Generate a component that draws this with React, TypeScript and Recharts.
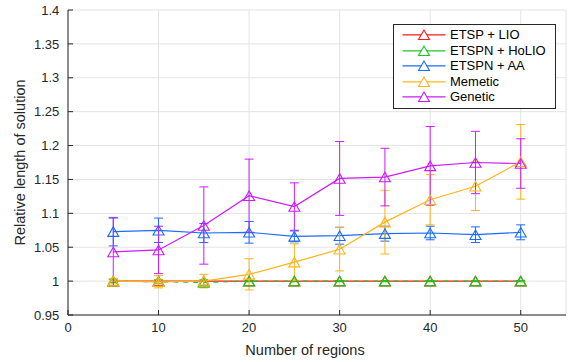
import React from 'react';
import { LineChart, Line, XAxis, YAxis, CartesianGrid, ErrorBar } from 'recharts';

const regions = [5, 10, 15, 20, 25, 30, 35, 40, 45, 50];
const etspLio = [1, 1, 1, 1, 1, 1, 1, 1, 1, 1];
const etspLioErr = [0, 0, 0, 0, 0, 0, 0, 0, 0, 0];
const etspnHolio = [1.0, 0.999, 0.998, 1.0, 1.0, 1.0, 1.0, 1.0, 1.0, 1.0];
const etspnHolioErr = [0.002, 0.003, 0.004, 0.001, 0.001, 0.001, 0.001, 0.001, 0.001, 0.001];
const etspnAa = [1.073, 1.075, 1.071, 1.072, 1.066, 1.067, 1.07, 1.071, 1.0685, 1.072];
const etspnAaErr = [0.021, 0.018, 0.014, 0.016, 0.008, 0.0125, 0.011, 0.01, 0.0115, 0.011];
const memetic = [1.0, 0.999, 1.0, 1.01, 1.028, 1.047, 1.087, 1.12, 1.14, 1.176];
const memeticErr = [0.004, 0.009, 0.01, 0.023, 0.027, 0.032, 0.047, 0.037, 0.036, 0.055];
const genetic = [1.043, 1.046, 1.082, 1.126, 1.11, 1.1515, 1.1535, 1.17, 1.175, 1.1735];
const geneticErr = [0.05, 0.035, 0.057, 0.054, 0.035, 0.0545, 0.0425, 0.058, 0.046, 0.0365];

const xTicks = [0, 10, 20, 30, 40, 50];
const yTicks = [0.95, 1, 1.05, 1.1, 1.15, 1.2, 1.25, 1.3, 1.35, 1.4];

const series = [
  { key: 'lio', name: 'ETSP + LIO', color: '#ff1a1a', dash: undefined as string | undefined },
  { key: 'holio', name: 'ETSPN + HoLIO', color: '#1ec81e', dash: '5 5' as string | undefined },
  { key: 'aa', name: 'ETSPN + AA', color: '#1a6cff', dash: undefined as string | undefined },
  { key: 'mem', name: 'Memetic', color: '#ffb41a', dash: undefined as string | undefined },
  { key: 'gen', name: 'Genetic', color: '#cc1aff', dash: undefined as string | undefined },
];

const data = regions.map((x, i) => ({
  x,
  lio: etspLio[i], lioErr: etspLioErr[i],
  holio: etspnHolio[i], holioErr: etspnHolioErr[i],
  aa: etspnAa[i], aaErr: etspnAaErr[i],
  mem: memetic[i], memErr: memeticErr[i],
  gen: genetic[i], genErr: geneticErr[i],
}));

const FONT = "'Liberation Sans', Arial, Helvetica, sans-serif";
const INK = '#262626';
const TW = 11;
const TH = 9.5;

const triPoints = (cx: number, cy: number) =>
  `${cx},${cy - TH / 2} ${cx - TW / 2},${cy + TH / 2} ${cx + TW / 2},${cy + TH / 2}`;

const makeDot = (color: string) => (props: any) => {
  const { cx, cy, index } = props;
  if (cx == null || cy == null) return <g key={`e-${index}`} />;
  return (
    <polygon key={`d-${index}`} points={triPoints(cx, cy)} fill="none" stroke={color} strokeWidth={1.1} />
  );
};

const YLabel = (props: any) => {
  const vb = props.viewBox || {};
  const x = (vb.x || 0) + 25;
  const y = (vb.y || 0) + (vb.height || 0) / 2;
  return (
    <text x={x} y={y} transform={`rotate(-90 ${x} ${y})`} textAnchor="middle" fontFamily={FONT} fontSize={14.5} fill={INK}>
      Relative length of solution
    </text>
  );
};

const XLabel = (props: any) => {
  const vb = props.viewBox || {};
  const x = (vb.x || 0) + (vb.width || 0) / 2 - 12;
  const y = (vb.y || 0) + 40;
  return (
    <text x={x} y={y} textAnchor="middle" fontFamily={FONT} fontSize={14.5} fill={INK}>
      Number of regions
    </text>
  );
};

const LegendBox = () => (
  <div
    style={{
      position: 'absolute',
      left: 393,
      top: 24,
      width: 161,
      height: 81,
      border: `1px solid ${INK}`,
      background: '#fff',
      paddingTop: 2,
      boxSizing: 'content-box',
      fontFamily: FONT,
      fontSize: 13,
      color: '#000',
    }}
  >
    {series.map((s) => (
      <div key={s.key} style={{ display: 'flex', alignItems: 'center', height: 15.6 }}>
        <svg width={56} height={15.6} style={{ display: 'block' }}>
          <line x1={8.5} x2={51.5} y1={7.8} y2={7.8} stroke={s.color} strokeWidth={1.2} />
          <polygon points={triPoints(30, 7.8)} fill="#fff" stroke={s.color} strokeWidth={1.1} />
        </svg>
        <span style={{ lineHeight: '15.6px', whiteSpace: 'nowrap' }}>{s.name}</span>
      </div>
    ))}
  </div>
);

export default function App() {
  const tickStyle = { fontFamily: FONT, fontSize: 13, fill: INK };
  return (
    <div style={{ position: 'absolute', left: 0, top: 0, width: 572, height: 362, background: '#fff' }}>
      <LineChart width={572} height={362} data={data} margin={{ top: 10, right: 6, bottom: 0, left: 0 }}>
        <CartesianGrid stroke="#e3e3e3" strokeWidth={1} />
        <XAxis
          dataKey="x"
          type="number"
          domain={[0, 55]}
          ticks={xTicks}
          allowDataOverflow
          height={47}
          tickSize={-5}
          tickMargin={13}
          tick={tickStyle}
          stroke={INK}
          axisLine={{ stroke: INK }}
          tickLine={{ stroke: INK }}
          label={<XLabel />}
        />
        <XAxis
          xAxisId="top"
          orientation="top"
          type="number"
          dataKey="x"
          domain={[0, 55]}
          ticks={xTicks}
          allowDataOverflow
          height={0}
          tickSize={-5}
          tick={false}
          axisLine={{ stroke: INK }}
          tickLine={{ stroke: INK }}
        />
        <YAxis
          type="number"
          domain={[0.95, 1.4]}
          ticks={yTicks}
          allowDataOverflow
          width={68}
          tickSize={-5}
          tickMargin={13.7}
          tick={tickStyle}
          axisLine={{ stroke: INK }}
          tickLine={{ stroke: INK }}
          label={<YLabel />}
        />
        <YAxis
          yAxisId="right"
          orientation="right"
          type="number"
          domain={[0.95, 1.4]}
          ticks={yTicks}
          allowDataOverflow
          width={0}
          tickSize={-5}
          tick={false}
          axisLine={{ stroke: INK }}
          tickLine={{ stroke: INK }}
        />
        {series.map((s) => (
          <Line
            key={s.key}
            type="linear"
            dataKey={s.key}
            name={s.name}
            stroke={s.color}
            strokeWidth={1.2}
            strokeDasharray={s.dash}
            dot={makeDot(s.color)}
            activeDot={false}
            isAnimationActive={false}
          >
            <ErrorBar dataKey={`${s.key}Err`} width={4.5} stroke={s.color} strokeWidth={1} direction="y" isAnimationActive={false} />
          </Line>
        ))}
      </LineChart>
      <LegendBox />
    </div>
  );
}
